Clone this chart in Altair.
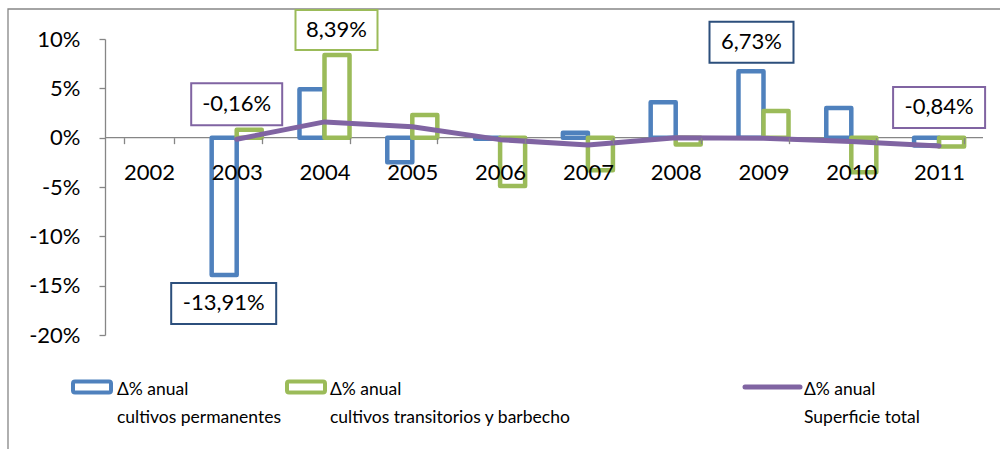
import altair as alt
import pandas as pd

# ---- data -------------------------------------------------------------
years = ["2002", "2003", "2004", "2005", "2006", "2007", "2008", "2009", "2010", "2011"]
perm = [None, -13.91, 4.9, -2.5, -0.1, 0.5, 3.6, 6.73, 3.0, -0.8]       # cultivos permanentes
trans = [None, 0.8, 8.39, 2.3, -4.9, -3.3, -0.7, 2.7, -3.5, -0.9]       # cultivos transitorios y barbecho
total = [None, -0.16, 1.6, 1.1, -0.2, -0.75, 0.0, -0.05, -0.4, -0.84]   # superficie total
y_ticks = [-20, -15, -10, -5, 0, 5, 10]

series_keys = ["perm", "trans", "total"]
series_lines = [
    ["Δ% anual", "cultivos permanentes"],
    ["Δ% anual", "cultivos transitorios y barbecho"],
    ["Δ% anual", "Superficie total"],
]
# (year, series) pairs that carry a value label
labelled = [("2003", "total"), ("2004", "trans"), ("2003", "perm"), ("2009", "perm"), ("2011", "total")]

# ---- style ------------------------------------------------------------
BLUE, GREEN, PURPLE = "#4F81BD", "#9BBB59", "#8064A2"
BOX_EDGE = {"perm": "#2C4F7C", "trans": GREEN, "total": PURPLE}
GRAY = "#868686"
FONT = "Lato"
W, H = 878, 296
Y_MIN, Y_MAX = -20, 10

rows = []
for key, vals in zip(series_keys, [perm, trans, total]):
    for yr, v in zip(years, vals):
        if v is not None:
            rows.append({"year": yr, "series": key, "value": v})
df = pd.DataFrame(rows)
bars_df = df[df.series != "total"]
line_df = df[df.series == "total"]

x_scale = alt.Scale(domain=years, paddingInner=0.43, paddingOuter=0.215)
y_scale = alt.Scale(domain=[Y_MIN, Y_MAX], nice=False, zero=False)
zero_offset = -H * (0 - Y_MIN) / (Y_MAX - Y_MIN)

# category axis sits on the zero line, labels drawn above the bars
x_axis = alt.Axis(
    orient="bottom", offset=zero_offset, tickBand="extent", labelAngle=0, title=None,
    domain=False, tickColor=GRAY, tickWidth=1.3, tickSize=6, zindex=1,
    labelFont=FONT, labelFontSize=22, labelColor="black", labelPadding=29,
    labelBaseline="middle",
)
y_axis = alt.Axis(
    values=y_ticks, labelExpr="datum.value + '%'", title=None, grid=False,
    domainColor=GRAY, tickColor=GRAY, domainWidth=1.3, tickWidth=1.3, tickSize=6,
    labelFont=FONT, labelFontSize=22, labelColor="black", labelPadding=19,
)

one_row = pd.DataFrame({"k": [0]})

# zero baseline, drawn beneath the bars
zero_line = alt.Chart(one_row).mark_rule(color=GRAY, strokeWidth=1.3).encode(y=alt.datum(0))

bars = alt.Chart(bars_df).mark_bar(fill="white", strokeWidth=4.5, strokeJoin="round").encode(
    x=alt.X("year:N", scale=x_scale, axis=x_axis, sort=years),
    xOffset=alt.XOffset("series:N", scale=alt.Scale(domain=["perm", "trans"], paddingInner=0, paddingOuter=0)),
    y=alt.Y("value:Q", scale=y_scale, axis=y_axis),
    stroke=alt.Stroke("series:N", scale=alt.Scale(domain=["perm", "trans"], range=[BLUE, GREEN]), legend=None),
)

line = alt.Chart(line_df).mark_line(color=PURPLE, strokeWidth=5, strokeJoin="round", strokeCap="round").encode(
    x=alt.X("year:N", scale=x_scale, sort=years),
    y=alt.Y("value:Q", scale=y_scale),
)

# value labels: offset from the labelled point (dx, dy) and box size (w, h), in pixels
label_layout = {
    ("2003", "total"): (0, -35, 91, 42),
    ("2004", "trans"): (12, -25, 82, 40),
    ("2003", "perm"): (-13, 28.5, 105, 41),
    ("2009", "perm"): (-12, -29, 84, 41),
    ("2011", "total"): (0, -38.5, 92, 41),
}


def box_path(dx, dy, w, h):
    """Rectangle outline as a symbol path, in units of w/2 around the point."""
    u = w / 2.0
    x0, x1 = dx / u - 1, dx / u + 1
    y0, y1 = (dy - h / 2) / u, (dy + h / 2) / u
    return f"M{x0:.4f},{y0:.4f}L{x1:.4f},{y0:.4f}L{x1:.4f},{y1:.4f}L{x0:.4f},{y1:.4f}Z"


label_layers = []
for yr, key in labelled:
    one = df[(df.year == yr) & (df.series == key)].copy()
    one["label"] = one["value"].map(lambda v: f"{v:.2f}".replace(".", ",") + "%")
    dx, dy, w, h = label_layout[(yr, key)]
    enc = dict(x=alt.X("year:N", scale=x_scale, sort=years), y=alt.Y("value:Q", scale=y_scale))
    box = alt.Chart(one).mark_point(
        shape=box_path(dx, dy, w, h), size=w * w, fill="white", fillOpacity=1,
        stroke=BOX_EDGE[key], strokeWidth=2, opacity=1,
    ).encode(**enc)
    txt = alt.Chart(one).mark_text(
        dx=dx, dy=dy, font=FONT, fontSize=22, color="black", align="center", baseline="middle",
    ).encode(text="label:N", **enc)
    label_layers += [box, txt]

# ---- legend and frame (plot-area pixel coordinates) -------------------
LEG_Y = 348
legend_layers = []
for (sx, tx), key, color, lines in zip(
    [(-32, 12), (182, 225), (640, 699)], series_keys, [BLUE, GREEN, PURPLE], series_lines
):
    if key == "total":
        sym = alt.Chart(one_row).mark_rule(color=color, strokeWidth=5, strokeCap="round").encode(
            x=alt.value(sx), x2=alt.value(sx + 55), y=alt.value(LEG_Y)
        )
    else:
        sym = alt.Chart(one_row).mark_rect(fill="white", stroke=color, strokeWidth=4, cornerRadius=2).encode(
            x=alt.value(sx), x2=alt.value(sx + 38), y=alt.value(LEG_Y - 5.5), y2=alt.value(LEG_Y + 5.5)
        )
    txt = alt.Chart(one_row).mark_text(
        align="left", baseline="alphabetic", font=FONT, fontSize=17.5, lineHeight=28, color="black",
    ).encode(x=alt.value(tx), y=alt.value(LEG_Y + 8), text=alt.value(lines))
    legend_layers += [sym, txt]

frame = alt.Chart(one_row).mark_rect(fill=None, stroke=GRAY, strokeWidth=1.3).encode(
    x=alt.value(-97), x2=alt.value(910), y=alt.value(-30), y2=alt.value(430)
)

chart = alt.layer(frame, zero_line, bars, line, *label_layers, *legend_layers).properties(
    width=W, height=H,
    padding={"left": 105, "top": 39, "right": 17, "bottom": 114},
    autosize=alt.AutoSizeParams(type="none"),
    background="white",
).configure_view(stroke=None)

chart.save("out.html", embed_options={"renderer": "svg", "actions": False})
